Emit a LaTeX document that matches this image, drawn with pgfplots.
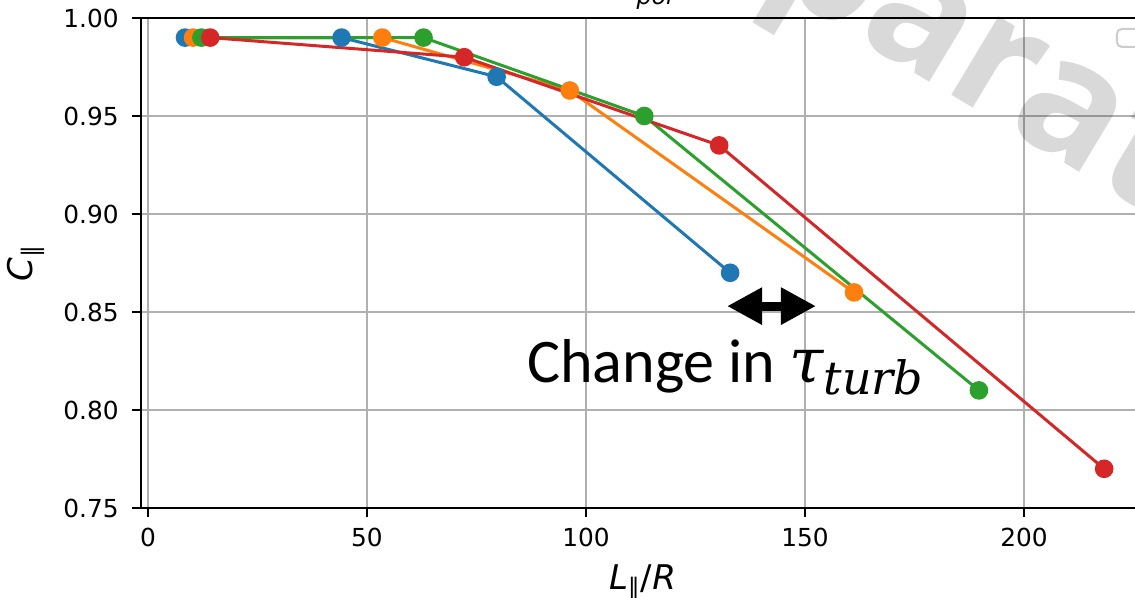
\documentclass[border=0pt]{standalone}
\usepackage{fontspec}
\setmainfont{DejaVu Sans}
\newfontfamily\calibri{Carlito}
\newfontfamily\wmfont{Open Sans}
\newfontfamily\dserif{DejaVu Serif}
\usepackage{pgfplots}
\pgfplotsset{compat=1.18}
\usetikzlibrary{arrows.meta}
\definecolor{tabblue}{HTML}{1F77B4}
\definecolor{taborange}{HTML}{FF7F0E}
\definecolor{tabgreen}{HTML}{2CA02C}
\definecolor{tabred}{HTML}{D62728}
\definecolor{gridgray}{HTML}{B0B0B0}
\definecolor{legendgray}{HTML}{CCCCCC}
\begin{document}
\begin{tikzpicture}
\begin{axis}[
  scale only axis, width=504.5pt, height=245pt,
  xmin=-1.6, xmax=228.77, ymin=0.75, ymax=1.0,
  clip=false,
  axis line style={black, line width=1.1pt},
  xtick={0,50,100,150,200},
  ytick={0.75,0.80,0.85,0.90,0.95,1.00},
  xtick pos=lower, ytick pos=left,
  grid=major, major grid style={color=gridgray, line width=0.8pt},
  tick align=outside, major tick length=4.5pt,
  tick style={black, line width=0.9pt},
  /pgf/number format/assume math mode=true,
  ticklabel style={font=\fontsize{12.4}{14}\selectfont},
  yticklabel style={/pgf/number format/fixed, /pgf/number format/fixed zerofill, /pgf/number format/precision=2, anchor=east, xshift=-6.5pt, inner sep=0pt},
  xticklabel style={anchor=base, yshift=-14.5pt, inner sep=0pt},
  label style={font=\fontsize{17}{20}\selectfont},
  xlabel={\textit{L}\textsubscript{∥}/\textit{R}},
  ylabel={\textit{C}\textsubscript{∥}},
  xlabel style={at={(axis description cs:0.497,0)}, anchor=base, yshift=-40.5pt, inner sep=0pt},
  ylabel style={at={(axis description cs:-0.114,0.5)}, anchor=center, rotate=0},
]
\addplot[tabblue, line width=1.5pt, mark=*, mark size=3.9pt, mark options={draw=none, fill=tabblue}]
  coordinates {(8.45,0.99) (44.2,0.99) (79.6,0.97) (132.9,0.87)};
\addplot[taborange, line width=1.5pt, mark=*, mark size=3.9pt, mark options={draw=none, fill=taborange}]
  coordinates {(10.3,0.99) (53.5,0.99) (96.3,0.963) (161.2,0.86)};
\addplot[tabgreen, line width=1.5pt, mark=*, mark size=3.9pt, mark options={draw=none, fill=tabgreen}]
  coordinates {(12.2,0.99) (62.9,0.99) (113.3,0.95) (189.7,0.81)};
\addplot[tabred, line width=1.5pt, mark=*, mark size=3.9pt, mark options={draw=none, fill=tabred}]
  coordinates {(14.2,0.99) (72.2,0.98) (130.4,0.935) (218.3,0.77)};

\node[anchor=south, inner sep=0pt, font=\fontsize{17}{20}\selectfont] at (axis cs:113.5,1.0041) {\textit{λ}\textsubscript{\textit{pol}}};

\draw[draw=legendgray, line width=1pt, fill=white, fill opacity=0.8, rounded corners=2.5pt]
  (axis cs:221.2,0.9944) rectangle (axis cs:227.2,0.9852);

\draw[line width=4.5pt, {Triangle[length=17.5pt,width=17.5pt]}-{Triangle[length=17.5pt,width=17.5pt]}]
  (axis cs:132.2,0.853) -- (axis cs:152.5,0.853);

\node[anchor=base west, inner sep=0pt, font=\calibri\fontsize{31}{36}\selectfont]
  at (axis cs:86.5,0.8138) {Change in {\dserif\itshape τ\raisebox{-6pt}{\fontsize{23}{26}\selectfont turb}}};

\node[rotate=-31, anchor=center, inner sep=0pt, text=black, text opacity=0.15,
  font=\wmfont\bfseries\fontsize{84}{88}\selectfont]
  at (axis cs:176.2,0.9964) {\llap{In prep}a\rlap{ration}};

\coordinate (BL) at (axis cs:-33.79,0.70459);
\coordinate (TR) at (axis cs:225.34,1.00918);
\end{axis}
\pgfresetboundingbox
\path[use as bounding box] (BL) rectangle (TR);
\end{tikzpicture}
\end{document}
